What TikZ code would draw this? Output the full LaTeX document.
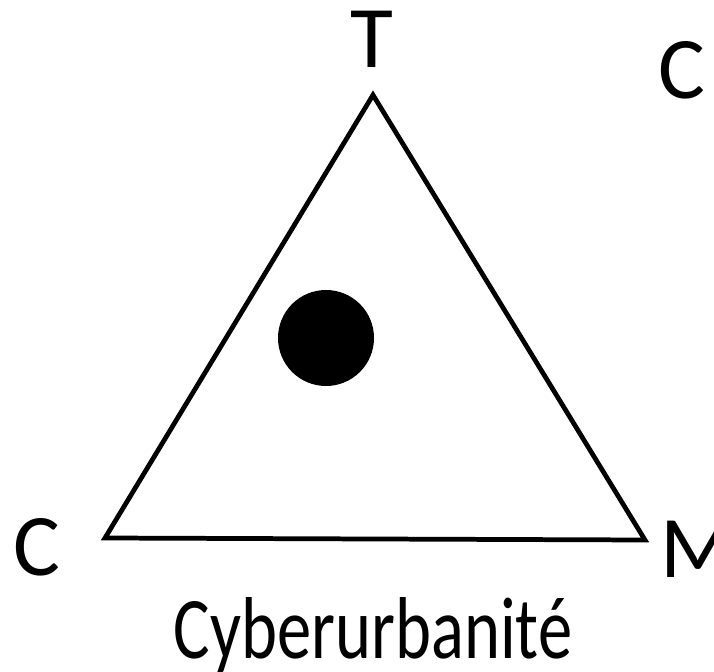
\documentclass[tikz,border=0pt]{standalone}
\usepackage{fontspec}
\setmainfont{Carlito}
\usepackage{graphicx}
\usepackage{tikz}

\begin{document}
\begin{tikzpicture}[
  x=0.02cm, y=-0.02cm,
  vertex/.style={inner sep=0pt, font=\fontsize{50}{55}\selectfont},
  caption/.style={inner sep=0pt, font=\fontsize{50}{55}\selectfont},
  edge/.style={line width=2.7pt, line join=miter}
]
\clip (0,0) rectangle (714,672);
\useasboundingbox (0,0) rectangle (714,672);
% corners of the triangle
\coordinate (top) at (373,95);
\coordinate (left) at (105,538);
\coordinate (right) at (645,540);
\draw[edge] (top) -- (left) -- (right) -- cycle;
\fill (326,338) circle (48);
% labels
\node[vertex, anchor=base] (t) at (372,68) {T};
\node[vertex, anchor=base west] (c2) at (658,99) {C};
\node[vertex, anchor=base west] (c1) at (13,575) {C};
\node[vertex, anchor=base west] (m) at (660,577) {M};
\node[caption, anchor=base] (title) at (373,658) {\scalebox{0.78}[1]{Cyberurbanité}};
\end{tikzpicture}
\end{document}
